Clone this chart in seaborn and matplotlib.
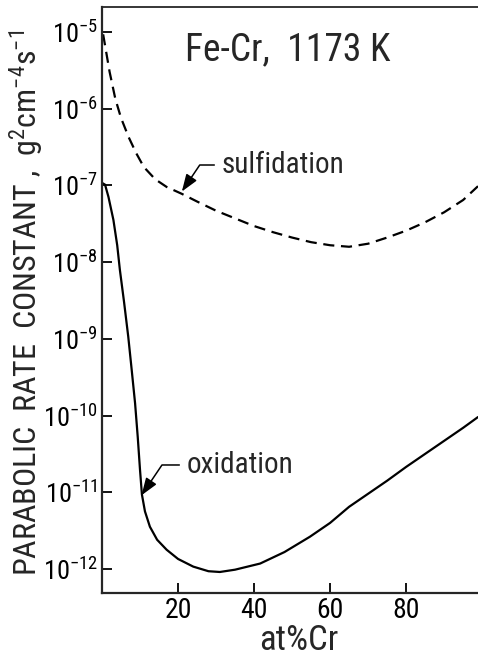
import matplotlib
matplotlib.use("Agg")
import matplotlib.pyplot as plt
from matplotlib import font_manager
import seaborn as sns
import pandas as pd
import numpy as np

# ---- data (x: at% Cr, y: log10 of rate constant) ----
cr_sulf = [0.3, 2, 3.5, 5, 7, 9, 11, 14, 17, 21, 25, 30, 35, 40, 45, 50, 55,
           60, 65, 70, 75, 80, 85, 90, 95, 98.9]
logk_sulf = [-5.03, -5.52, -5.87, -6.12, -6.37, -6.58, -6.76, -6.92, -7.02,
             -7.11, -7.21, -7.33, -7.43, -7.53, -7.61, -7.68, -7.74, -7.78,
             -7.80, -7.76, -7.68, -7.59, -7.48, -7.35, -7.19, -7.01]

cr_ox = [0.1, 0.8, 1.7, 3.0, 4.0, 4.7, 5.8, 6.9, 7.8, 8.7, 9.4, 10.0, 10.5,
         11.3, 12.6, 14.5, 17, 20, 24, 28, 31, 35, 41.6, 48, 54.7, 60, 65,
         70, 75, 80, 85, 90, 95, 98.9]
logk_ox = [-6.97, -6.99, -7.15, -7.45, -7.78, -8.10, -8.52, -8.97, -9.40,
           -9.84, -10.28, -10.71, -11.03, -11.25, -11.45, -11.62, -11.75,
           -11.87, -11.97, -12.03, -12.04, -12.01, -11.93, -11.78, -11.58,
           -11.40, -11.19, -11.02, -10.85, -10.67, -10.50, -10.33, -10.16,
           -10.02]

x_ticks = [20, 40, 60, 80]
y_tick_exp = [-12, -11, -10, -9, -8, -7, -6, -5]
title_text = "Fe-Cr,  1173 K"
label_sulf = "sulfidation"
label_ox = "oxidation"
x_label = "at%Cr"
y_label = "PARABOLIC  RATE  CONSTANT ,  g$^2$cm$^{-4}$s$^{-1}$"

# ---- style ----
sns.set_style("ticks")
names = {f.name for f in font_manager.fontManager.ttflist}
font = "DejaVu Sans"
for cand in ["Liberation Sans Narrow", "DejaVu Sans Condensed", "Roboto Condensed", "Roboto"]:
    if cand in names:
        font = cand
        break
plt.rcParams["font.family"] = [font, "DejaVu Sans"]
plt.rcParams["mathtext.default"] = "regular"

df_s = pd.DataFrame({"cr": cr_sulf, "k": 10.0 ** np.array(logk_sulf)})
df_o = pd.DataFrame({"cr": cr_ox, "k": 10.0 ** np.array(logk_ox)})

fig = plt.figure(figsize=(4.78, 6.55), dpi=100)
ax = fig.add_axes([102 / 478, 1 - 593 / 655, 1 - 102 / 478, (593 - 7) / 655])

sns.lineplot(data=df_s, x="cr", y="k", ax=ax, color="black", lw=1.6,
             linestyle=(0, (5, 3)), estimator=None)
sns.lineplot(data=df_o, x="cr", y="k", ax=ax, color="black", lw=1.6,
             estimator=None)

ax.set_yscale("log")
ax.set_xlim(0, 98.9)
ax.set_ylim(10 ** -12.314, 10 ** -4.674)

ax.set_xticks(x_ticks)
ax.set_xticklabels([str(t) for t in x_ticks], fontsize=20)
ax.set_yticks([10.0 ** e for e in y_tick_exp])
ax.set_yticklabels([f"$10^{{{e}}}$" for e in y_tick_exp], fontsize=19)
ax.yaxis.set_minor_locator(matplotlib.ticker.NullLocator())
ax.tick_params(direction="in", length=7, width=1.3, pad=3, colors="black")

for side in ["left", "bottom"]:
    ax.spines[side].set_linewidth(1.6)
ax.spines["top"].set_linewidth(1.3)
ax.spines["right"].set_visible(False)

ax.set_xlabel(x_label, fontsize=25)
ax.xaxis.set_label_coords((298.5 - 102) / 376, (593 - 640) / 586)
ax.set_ylabel(y_label, fontsize=23)
ax.yaxis.set_label_coords((27 - 102) / 376, 0.495)
for lbl in [ax.xaxis.label, ax.yaxis.label]:
    lbl.set_va("center")

ax.text(0.221, 0.9266, title_text, transform=ax.transAxes, fontsize=27,
        ha="left", va="center")

arrow = dict(arrowstyle="-|>,head_length=0.5,head_width=0.18", color="black",
             lw=1.1, relpos=(0, 0.5), shrinkA=3, shrinkB=0,
             connectionstyle="angle,angleA=0,angleB=56,rad=0")
ax.annotate(label_sulf, xy=(21.0, 10 ** -7.08), xytext=(31.5, 10 ** -6.734),
            fontsize=21, ha="left", va="center", arrowprops=arrow)
ax.annotate(label_ox, xy=(10.4, 10 ** -11.04), xytext=(22.3, 10 ** -10.645),
            fontsize=21, ha="left", va="center", arrowprops=arrow)

fig.savefig("out.png", dpi=100)
